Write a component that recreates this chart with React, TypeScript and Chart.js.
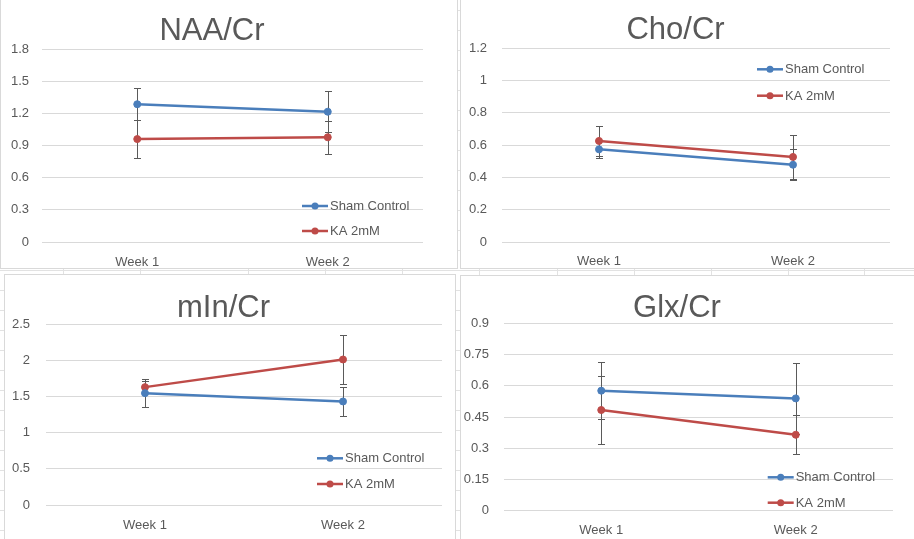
import React, { useEffect, useRef } from "react";
import { Chart, registerables } from "chart.js";

Chart.register(...registerables);

// ---------- data ----------
const weeks = ["Week 1", "Week 2"];
const seriesNames = ["Sham Control", "KA 2mM"];

const naaSham = [1.285, 1.215];
const naaShamErr = [0.147, 0.19];
const naaKA = [0.96, 0.977];
const naaKAErr = [0.175, 0.155];
const naaAxis = [0, 1.8, 0.3]; // min, max, step

const choSham = [0.573, 0.478];
const choShamErr = [0.055, 0.095];
const choKA = [0.625, 0.526];
const choKAErr = [0.092, 0.135];
const choAxis = [0, 1.2, 0.2];

const minSham = [1.545, 1.43];
const minShamErr = [0.195, 0.195];
const minKA = [1.628, 2.01];
const minKAErr = [0.08, 0.34];
const minAxis = [0, 2.5, 0.5];

const glxSham = [0.577, 0.54];
const glxShamErr = [0.137, 0.17];
const glxKA = [0.484, 0.365];
const glxKAErr = [0.163, 0.093];
const glxAxis = [0, 0.9, 0.15];

// ---------- style ----------
const BLUE = "#4A7EBB";
const RED = "#BE4B48";
const TEXT = "#595959";
const GRID = "#d9d9d9";
const FONT = '"Liberation Sans", Arial, sans-serif';

const errorBarPlugin = {
  id: "errorBars",
  beforeDatasetsDraw(chart: any) {
    const ctx = chart.ctx;
    const xs = chart.scales.x;
    const ys = chart.scales.y;
    ctx.save();
    ctx.strokeStyle = "#5a5a5a";
    ctx.lineWidth = 1;
    chart.data.datasets.forEach((ds: any) => {
      const errs = ds.errors;
      if (!errs) return;
      ds.data.forEach((v: number, i: number) => {
        const x = Math.round(xs.getPixelForValue(i)) + 0.5;
        const yTop = Math.round(ys.getPixelForValue(v + errs[i])) + 0.5;
        const yBot = Math.round(ys.getPixelForValue(v - errs[i])) + 0.5;
        ctx.beginPath();
        ctx.moveTo(x, yTop);
        ctx.lineTo(x, yBot);
        ctx.moveTo(x - 3.5, yTop);
        ctx.lineTo(x + 3.5, yTop);
        ctx.moveTo(x - 3.5, yBot);
        ctx.lineTo(x + 3.5, yBot);
        ctx.stroke();
      });
    });
    ctx.restore();
  },
};

const insideLegendPlugin = {
  id: "insideLegend",
  afterDraw(chart: any, _args: any, opts: any) {
    const ctx = chart.ctx;
    ctx.save();
    chart.data.datasets.forEach((ds: any, i: number) => {
      const y = opts.y + i * opts.gap;
      const x = opts.x;
      ctx.strokeStyle = ds.borderColor;
      ctx.lineWidth = 2.5;
      ctx.beginPath();
      ctx.moveTo(x, y);
      ctx.lineTo(x + 26, y);
      ctx.stroke();
      ctx.fillStyle = ds.borderColor;
      ctx.beginPath();
      ctx.arc(x + 13, y, 3.5, 0, Math.PI * 2);
      ctx.fill();
      ctx.fillStyle = TEXT;
      ctx.font = `13px ${FONT}`;
      ctx.textAlign = "left";
      ctx.textBaseline = "middle";
      ctx.fillText(ds.label, x + 28, y + 0.5);
    });
    ctx.restore();
  },
};

type PanelCfg = {
  title: string;
  sham: number[];
  shamErr: number[];
  ka: number[];
  kaErr: number[];
  axis: number[];
  box: { left: number; top: number; width: number; height: number };
  area: { l: number; r: number; t: number; b: number };
  tcy: number;
  xcy: number;
  yrx: number;
  legend: { x: number; y: number; gap: number };
};

const panels: PanelCfg[] = [
  {
    title: "NAA/Cr",
    sham: naaSham, shamErr: naaShamErr, ka: naaKA, kaErr: naaKAErr, axis: naaAxis,
    box: { left: 0, top: -1, width: 458, height: 270 },
    area: { l: 42, r: 423, t: 49, b: 242 },
    tcy: 31.3, xcy: 262, yrx: 29,
    legend: { x: 302, y: 206, gap: 25 },
  },
  {
    title: "Cho/Cr",
    sham: choSham, shamErr: choShamErr, ka: choKA, kaErr: choKAErr, axis: choAxis,
    box: { left: 460, top: -1, width: 456, height: 270 },
    area: { l: 502, r: 890, t: 48, b: 242 },
    tcy: 30.8, xcy: 261.3, yrx: 487,
    legend: { x: 757, y: 69.3, gap: 26.4 },
  },
  {
    title: "mIn/Cr",
    sham: minSham, shamErr: minShamErr, ka: minKA, kaErr: minKAErr, axis: minAxis,
    box: { left: 4, top: 274, width: 452, height: 270 },
    area: { l: 46, r: 442, t: 324, b: 505 },
    tcy: 308.7, xcy: 525, yrx: 30,
    legend: { x: 317, y: 458.3, gap: 25.7 },
  },
  {
    title: "Glx/Cr",
    sham: glxSham, shamErr: glxShamErr, ka: glxKA, kaErr: glxKAErr, axis: glxAxis,
    box: { left: 460, top: 275, width: 456, height: 266 },
    area: { l: 504, r: 893, t: 323.5, b: 510.7 },
    tcy: 308.7, xcy: 530.3, yrx: 489,
    legend: { x: 767.7, y: 477.3, gap: 25.4 },
  },
];

function Panel({ cfg }: { cfg: PanelCfg }) {
  const ref = useRef<HTMLCanvasElement>(null);
  const ox = cfg.box.left + 1;
  const oy = cfg.box.top + 1;
  const cw = cfg.box.width - 2;
  const ch = cfg.box.height - 2;

  useEffect(() => {
    const yW = cfg.area.l - ox;
    const rightPad = cw - (cfg.area.r - ox);
    const xH = ch - (cfg.area.b - oy);
    const c = cfg.tcy - oy;
    const tPadTop = c - 15.5;
    const tPadBottom = cfg.area.t - oy - c - 15.5;
    const xPad = cfg.xcy - cfg.area.b - 7.8;
    const yPad = cfg.area.l - cfg.yrx;

    const chart = new Chart(ref.current as HTMLCanvasElement, {
      type: "line",
      data: {
        labels: weeks,
        datasets: [
          {
            label: seriesNames[0],
            data: cfg.sham,
            errors: cfg.shamErr,
            borderColor: BLUE,
            backgroundColor: BLUE,
            pointBackgroundColor: BLUE,
            pointBorderColor: BLUE,
            borderWidth: 2.5,
            pointRadius: 3.5,
            pointBorderWidth: 1,
            tension: 0,
          } as any,
          {
            label: seriesNames[1],
            data: cfg.ka,
            errors: cfg.kaErr,
            borderColor: RED,
            backgroundColor: RED,
            pointBackgroundColor: RED,
            pointBorderColor: RED,
            borderWidth: 2.5,
            pointRadius: 3.5,
            pointBorderWidth: 1,
            tension: 0,
          } as any,
        ],
      },
      options: {
        responsive: false,
        animation: false,
        layout: { padding: { left: 0, right: rightPad, top: 0, bottom: 0 } },
        plugins: {
          legend: { display: false },
          tooltip: { enabled: false },
          title: {
            display: true,
            text: cfg.title,
            color: TEXT,
            font: { family: FONT, size: 31, weight: "normal", lineHeight: 1 },
            padding: { top: tPadTop, bottom: tPadBottom },
          },
          insideLegend: {
            x: cfg.legend.x - ox,
            y: cfg.legend.y - oy,
            gap: cfg.legend.gap,
          },
        } as any,
        scales: {
          x: {
            offset: true,
            grid: { display: false, drawTicks: false },
            border: { display: false },
            ticks: { color: TEXT, font: { family: FONT, size: 13 }, padding: xPad },
            afterFit: (s: any) => {
              s.height = xH;
            },
          },
          y: {
            min: cfg.axis[0],
            max: cfg.axis[1],
            grid: { color: GRID, drawTicks: false, lineWidth: 1 },
            border: { display: false },
            ticks: {
              stepSize: cfg.axis[2],
              color: TEXT,
              font: { family: FONT, size: 13 },
              padding: yPad,
              callback: (v: any) => String(Math.round(Number(v) * 1000) / 1000),
            },
            afterFit: (s: any) => {
              s.width = yW;
            },
          },
        },
      },
      plugins: [errorBarPlugin, insideLegendPlugin],
    });
    return () => chart.destroy();
  }, []);

  return (
    <div
      style={{
        position: "absolute",
        left: cfg.box.left,
        top: cfg.box.top,
        width: cfg.box.width,
        height: cfg.box.height,
        border: `1px solid ${GRID}`,
        boxSizing: "border-box",
        background: "#fff",
      }}
    >
      <canvas
        ref={ref}
        width={cw}
        height={ch}
        style={{ position: "absolute", left: 0, top: 0, width: cw, height: ch, display: "block" }}
      />
    </div>
  );
}

const sheetCols = [63, 140, 248, 325, 402, 479, 557, 634, 711, 788, 864];

export default function App() {
  return (
    <div
      style={{
        position: "fixed",
        left: 0,
        top: 0,
        width: 914,
        height: 539,
        overflow: "hidden",
        background:
          "repeating-linear-gradient(to bottom, transparent 0px, transparent 10px, #e2e2e2 10px, #e2e2e2 11px, transparent 11px, transparent 20px), #fff",
      }}
    >
      {sheetCols.map((x) => (
        <div
          key={x}
          style={{ position: "absolute", left: x, top: 0, width: 1, height: 539, background: "#e2e2e2" }}
        />
      ))}
      {panels.map((p) => (
        <Panel key={p.title} cfg={p} />
      ))}
    </div>
  );
}
